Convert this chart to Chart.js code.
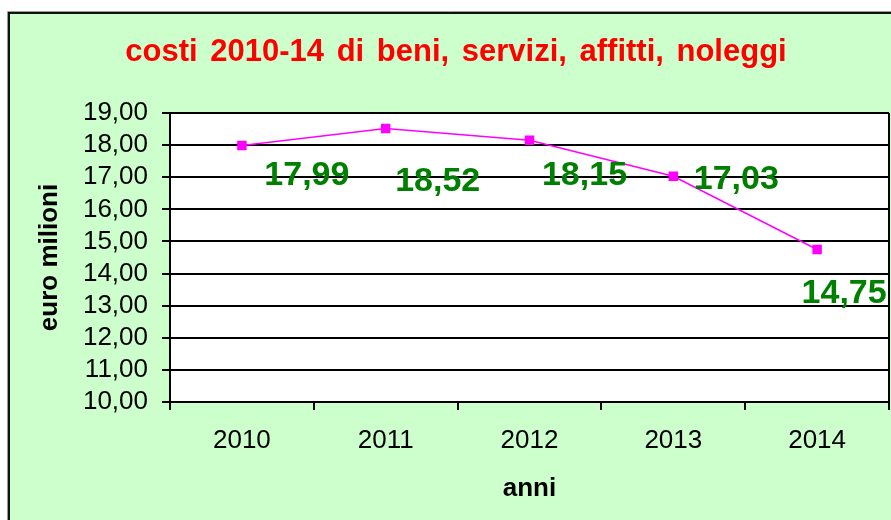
<!DOCTYPE html>
<html><head><meta charset="utf-8">
<script src="https://cdn.jsdelivr.net/npm/chart.js@4.4.1/dist/chart.umd.min.js"></script>
<style>html,body{margin:0;padding:0;background:#fff;overflow:hidden}#wrap{width:891px;height:520px;position:relative}</style>
</head><body><div id="wrap"><canvas id="c"></canvas></div>
<script>
const categories = ['2010', '2011', '2012', '2013', '2014'];
const costValues = [17.99, 18.52, 18.15, 17.03, 14.75];
const yTickMin = 10;
const yTickMax = 19;
const yTickStep = 1;
const titleText = 'costi 2010-14 di beni, servizi, affitti, noleggi';
const yAxisTitle = 'euro milioni';
const xAxisTitle = 'anni';
// label placement (style): offset of each value label from its point [dx to centre, dy to baseline]
const labelOffsets = [[65, 40], [52, 63], [55, 45], [63, 13], [27, 54]];

const FONT = "'Liberation Sans', Arial, Helvetica, sans-serif";
const fmt = v => Number(v).toFixed(2).replace('.', ',');

const framePlugin = {
  id: 'frame',
  beforeDraw(chart) {
    const {ctx, chartArea: a, width, height} = chart;
    ctx.save();
    ctx.fillStyle = '#ffffff';
    ctx.fillRect(0, 0, width, height);
    ctx.fillStyle = '#CCFFCC';
    ctx.fillRect(9, 13, width - 9, height - 13);
    ctx.strokeStyle = '#9a9a9a';
    ctx.lineWidth = 1;
    ctx.beginPath(); ctx.moveTo(7.5, height); ctx.lineTo(7.5, 11.5); ctx.lineTo(width, 11.5); ctx.stroke();
    ctx.strokeStyle = '#111';
    ctx.lineWidth = 2;
    ctx.beginPath(); ctx.moveTo(9, height); ctx.lineTo(9, 13); ctx.lineTo(width, 13); ctx.stroke();
    ctx.fillStyle = '#ffffff';
    ctx.fillRect(a.left, a.top, a.right - a.left, a.bottom - a.top);
    // title
    ctx.font = 'bold 31px ' + FONT;
    ctx.fillStyle = '#FF0000';
    ctx.textAlign = 'center';
    ctx.textBaseline = 'alphabetic';
    try { ctx.wordSpacing = '4px'; } catch (e) {}
    ctx.fillText(titleText, 456, 61);
    try { ctx.wordSpacing = '0px'; } catch (e) {}
    ctx.restore();
  },
  afterDraw(chart) {
    const {ctx, chartArea: a} = chart;
    ctx.save();
    ctx.strokeStyle = '#000';
    ctx.lineWidth = 2;
    ctx.beginPath(); ctx.moveTo(a.right, a.top); ctx.lineTo(a.right, a.bottom); ctx.stroke();
    const meta = chart.getDatasetMeta(0);
    ctx.font = 'bold 34px ' + FONT;
    ctx.fillStyle = '#008000';
    ctx.textAlign = 'center';
    ctx.textBaseline = 'alphabetic';
    meta.data.forEach((pt, i) => {
      const off = labelOffsets[i] || [0, 0];
      ctx.fillText(fmt(costValues[i]), pt.x + off[0], pt.y + off[1]);
    });
    ctx.restore();
  }
};

new Chart(document.getElementById('c'), {
  type: 'line',
  data: {
    labels: categories,
    datasets: [{
      data: costValues,
      borderColor: '#FF00FF',
      backgroundColor: '#FF00FF',
      borderWidth: 1.5,
      pointStyle: 'rect',
      pointRadius: 6.7,
      pointHoverRadius: 6.7,
      pointBorderWidth: 0,
      tension: 0,
      fill: false
    }]
  },
  options: {
    responsive: true,
    maintainAspectRatio: false,
    animation: false,
    events: [],
    layout: {autoPadding: false, padding: {left: 0, top: 113, right: 2, bottom: 0}},
    plugins: {legend: {display: false}, title: {display: false}, tooltip: {enabled: false}},
    scales: {
      x: {
        type: 'category',
        offset: true,
        grid: {offset: true, drawOnChartArea: false, drawTicks: true, tickLength: 8, color: '#000', lineWidth: 2},
        border: {display: true, color: '#000', width: 2},
        ticks: {color: '#000', font: {family: FONT, size: 26}, padding: 15, maxRotation: 0, autoSkip: false},
        title: {display: true, text: xAxisTitle, color: '#000', font: {family: FONT, size: 26, weight: 'bold', lineHeight: 1}, padding: {top: 0, bottom: 18}},
        afterFit(scale) { scale.height = 118; scale.paddingLeft = 0; scale.paddingRight = 0; }
      },
      y: {
        min: yTickMin,
        max: yTickMax,
        grid: {drawOnChartArea: true, drawTicks: true, tickLength: 8, color: '#000', lineWidth: 2},
        border: {display: true, color: '#000', width: 2},
        ticks: {stepSize: yTickStep, autoSkip: false, maxTicksLimit: 20, color: '#000', font: {family: FONT, size: 26, lineHeight: 1}, padding: 14, callback: v => fmt(v)},
        title: {display: true, text: yAxisTitle, color: '#000', font: {family: FONT, size: 26, weight: 'bold', lineHeight: 1}, padding: {top: 37, bottom: 0}},
        afterFit(scale) { scale.width = 170; scale.paddingTop = 0; scale.paddingBottom = 0; }
      }
    }
  },
  plugins: [framePlugin]
});
</script>
</body></html>
